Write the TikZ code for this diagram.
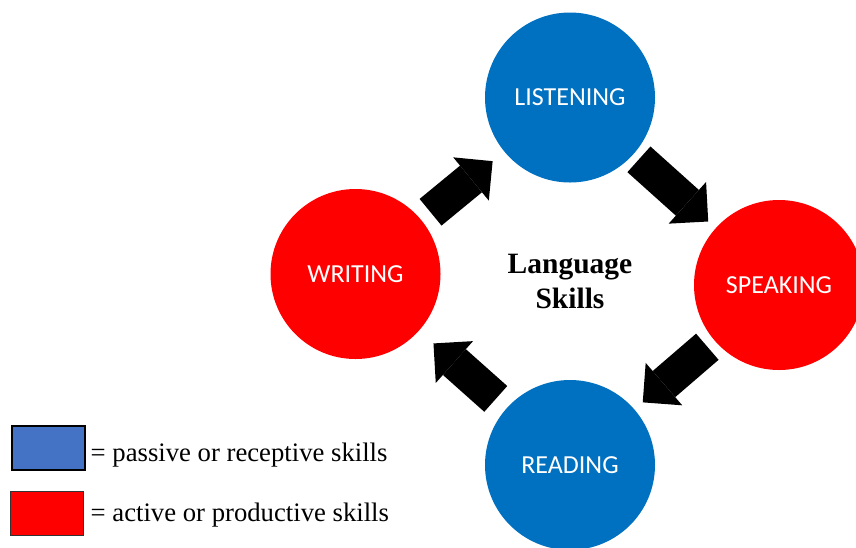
\documentclass[tikz,border=0pt]{standalone}
\usepackage{fontspec}
\setmainfont{Liberation Serif}
\newfontfamily\skillfont{Carlito}
\usetikzlibrary{arrows.meta}
\definecolor{skillblue}{HTML}{0070C0}
\definecolor{skillred}{HTML}{FF0000}
\definecolor{legendblue}{HTML}{4472C4}
\begin{document}
\begin{tikzpicture}[x=1pt,y=-1pt,
    skill/.style={circle,minimum size=170pt,inner sep=0pt,text=white,
      font=\skillfont\fontsize{26}{31}\selectfont},
    skillarrow/.style={line width=34.5pt,
      -{Triangle[length=28pt,width=56pt,line width=0pt]}},
    legendbox/.style={minimum width=73.3pt,inner sep=0pt},
    legendtext/.style={anchor=base west,inner sep=0pt,
      font=\fontsize{26.7}{32}\selectfont}]
  \useasboundingbox (0,0) rectangle (856,547);
  % the four skills
  \node[skill,fill=skillblue] (listening) at (570,97.5) {LISTENING};
  \node[skill,fill=skillred] (speaking) at (779,285) {SPEAKING};
  \node[skill,fill=skillblue] (reading) at (570,465) {READING};
  \node[skill,fill=skillred] (writing) at (355.5,274) {WRITING};
  \node[font=\bfseries\fontsize{29.5}{35}\selectfont,align=center]
    (centre) at (570,281) {Language\\Skills};
  % the cycle
  \draw[skillarrow,shorten <=12pt,shorten >=15pt] (writing) -- (listening);
  \draw[skillarrow,shorten <=7.4pt,shorten >=9.9pt] (listening) -- (speaking);
  \draw[skillarrow,shorten <=9.4pt,shorten >=10.8pt] (speaking) -- (reading);
  \draw[skillarrow,shorten <=14.2pt,shorten >=19.2pt] (reading) -- (writing);
  % legend
  \node[legendbox,draw=black,line width=2pt,fill=legendblue,minimum height=44pt]
    (passivebox) at (48.3,448) {};
  \node[legendbox,draw=black!80,line width=1pt,fill=skillred,minimum height=43.7pt]
    (activebox) at (47.2,513.3) {};
  \node[legendtext] (passivetext) at (90.5,461.5) {= passive or receptive skills};
  \node[legendtext] (activetext) at (90.5,521.7) {= active or productive skills};
\end{tikzpicture}
\end{document}
